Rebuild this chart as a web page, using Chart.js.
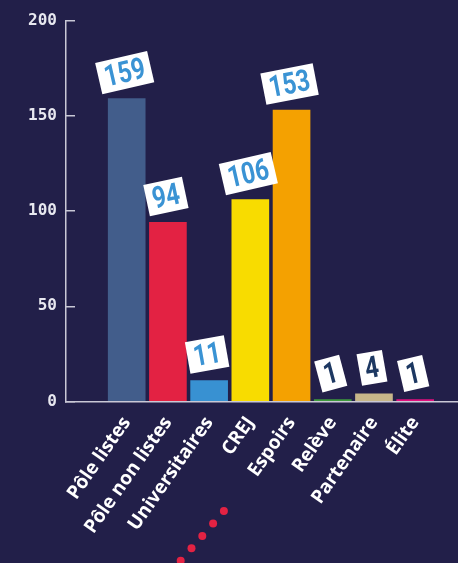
<html>
<head>
<meta charset="utf-8">
<title>Effectifs par statut</title>
<script src="https://cdn.jsdelivr.net/npm/chart.js"></script>
<style>
  html, body { margin: 0; padding: 0; background: #221f49; }
  #effChart { display: block; }
</style>
</head>
<body>
<canvas id="effChart" width="458" height="563"></canvas>
<script>
// data
const categories = ['Pôle listes', 'Pôle non listes', 'Universitaires', 'CREJ', 'Espoirs', 'Relève', 'Partenaire', 'Élite'];
const values = [159, 94, 11, 106, 153, 1, 4, 1];
const yTicks = [0, 50, 100, 150, 200];

// look
const barColors = ['#425d8b', '#e32243', '#3891d2', '#f8dc00', '#f4a101', '#3d9a3c', '#c7b689', '#e0107e'];
const tagTilt = [-13, -12, -10, -13, -11, -15, -10, -13];
const axisColor = '#c9c8d6';
const squeeze = 0.8; // fake a condensed face for the tags

// white tilted boxes with the value above each bar
const valueTags = {
    id: 'valueTags',
    afterDatasetsDraw(chart) {
        const ctx = chart.ctx;
        const meta = chart.getDatasetMeta(0);
        ctx.save();
        ctx.font = 'bold 30px Roboto, sans-serif';
        ctx.textAlign = 'center';
        ctx.textBaseline = 'middle';
        meta.data.forEach((bar, i) => {
            const txt = String(values[i]);
            const w = ctx.measureText(txt).width * squeeze + 12;
            const h = 32;
            ctx.save();
            ctx.translate(bar.x - 2, bar.y - 26);
            ctx.rotate(tagTilt[i] * Math.PI / 180);
            ctx.fillStyle = '#ffffff';
            ctx.fillRect(-w / 2, -h / 2, w, h);
            ctx.fillStyle = values[i] < 10 ? '#1d3862' : '#3a93d4';
            ctx.scale(squeeze, 1);
            ctx.fillText(txt, 0, 2);
            ctx.restore();
        });
        ctx.restore();
    }
};

// the little red dotted line at the bottom (decoration)
const redDots = {
    id: 'redDots',
    afterDraw(chart) {
        const ctx = chart.ctx;
        ctx.save();
        ctx.fillStyle = '#e32243';
        for (let k = 0; k < 5; k++) {
            ctx.beginPath();
            ctx.arc(180.7 + k * 10.8, 560.7 - k * 12.4, 4, 0, Math.PI * 2);
            ctx.fill();
        }
        ctx.restore();
    }
};

new Chart(document.getElementById('effChart').getContext('2d'), {
    type: 'bar',
    data: {
        datasets: [{
            data: categories.map((c, i) => ({ x: i, y: values[i] })),
            backgroundColor: barColors,
            barThickness: 37
        }]
    },
    options: {
        responsive: false,
        animation: false,
        devicePixelRatio: 1,
        layout: { padding: { top: 20.5, right: 0, bottom: 0, left: 0 } },
        plugins: {
            legend: { display: false },
            tooltip: { enabled: false }
        },
        scales: {
            x: {
                type: 'linear',
                min: -1.473,
                max: 8.039,
                offset: false,
                grid: { display: false, drawTicks: false, offset: false },
                border: { color: axisColor, width: 1.5 },
                afterBuildTicks: s => { s.ticks = categories.map((c, i) => ({ value: i })); },
                afterFit: s => {
                    s.height = 161.5;
                    s.paddingLeft = s.paddingRight = s.paddingTop = s.paddingBottom = 0;
                },
                ticks: {
                    autoSkip: false,
                    minRotation: 55,
                    maxRotation: 55,
                    padding: 11,
                    color: '#ffffff',
                    font: { family: '"Open Sans"', size: 19, weight: '700' },
                    callback: v => categories[v]
                }
            },
            y: {
                min: 0,
                max: 200,
                afterBuildTicks: s => { s.ticks = yTicks.map(v => ({ value: v })); },
                afterFit: s => {
                    s.width = 66;
                    s.paddingLeft = s.paddingRight = s.paddingTop = s.paddingBottom = 0;
                },
                grid: { drawOnChartArea: false, tickLength: -9, color: axisColor, lineWidth: 1.5 },
                border: { color: axisColor, width: 1.5 },
                ticks: {
                    padding: 18,
                    color: '#e8e8f0',
                    font: { family: '"DejaVu Sans Mono"', size: 16, weight: 'bold' }
                }
            }
        }
    },
    plugins: [valueTags, redDots]
});
</script>
</body>
</html>
